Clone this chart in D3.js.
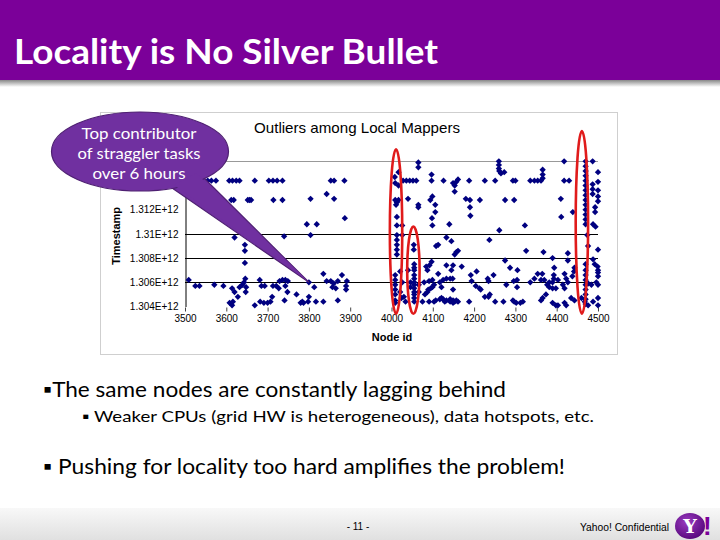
<!DOCTYPE html>
<html>
<head>
<meta charset="utf-8">
<script src="https://cdn.jsdelivr.net/npm/d3@7"></script>
<style>
  body { margin: 0; background: #fff; }
  svg { display: block; }
</style>
</head>
<body>
<div id="app"></div>
<script>
// points: [node id, timestamp in units of 1E+12]
const pts3500 = [
  [3526, 1.3144], [3546, 1.3144], [3555, 1.3144], [3564, 1.3144], [3575, 1.3144],
  [3607, 1.3144], [3615, 1.3144], [3624, 1.3144], [3632, 1.3144], [3669, 1.3144],
  [3572, 1.3128], [3612, 1.3128], [3618, 1.3128], [3652, 1.3128], [3656, 1.3128], [3660, 1.3128],
  [3620, 1.3097], [3645, 1.3091], [3645, 1.3086], [3645, 1.3076], [3646, 1.3063],
  [3509, 1.3062], [3525, 1.3057], [3535, 1.3057], [3571, 1.3058], [3593, 1.3057],
  [3614, 1.3055], [3620, 1.3052], [3628, 1.3048], [3632, 1.3056], [3639, 1.3058],
  [3643, 1.3060], [3648, 1.3056], [3647, 1.3052], [3608, 1.3043], [3616, 1.3044],
  [3614, 1.3041], [3669, 1.3041], [3681, 1.3062], [3685, 1.3057], [3693, 1.3057],
  [3682, 1.3044], [3691, 1.3043], [3700, 1.3043]
];
const pts3700 = [
  [3703, 1.3144], [3713, 1.3144], [3723, 1.3144], [3736, 1.3144], [3853, 1.3144], [3861, 1.3144], [3886, 1.3144],
  [3714, 1.3128], [3736, 1.3128], [3804, 1.3129], [3843, 1.3133], [3861, 1.3129],
  [3887, 1.3113], [3795, 1.3108], [3819, 1.3108], [3804, 1.3099], [3740, 1.3098],
  [3707, 1.3044], [3711, 1.3048], [3713, 1.3057], [3721, 1.3057], [3727, 1.3055],
  [3729, 1.3061], [3736, 1.3062], [3743, 1.3062], [3749, 1.3061], [3743, 1.3057],
  [3748, 1.3052], [3741, 1.3045], [3770, 1.3050], [3780, 1.3043], [3784, 1.3044],
  [3787, 1.3043], [3800, 1.3060], [3800, 1.3048], [3798, 1.3044], [3813, 1.3056],
  [3817, 1.3044], [3835, 1.3067], [3835, 1.3044], [3843, 1.3061], [3853, 1.3061],
  [3860, 1.3059], [3870, 1.3061], [3857, 1.3056], [3865, 1.3055], [3870, 1.3045],
  [3880, 1.3066], [3892, 1.3061], [3890, 1.3057], [3890, 1.3054]
];
const pts4000 = [
  [4017, 1.3151], [4008, 1.3147], [4009, 1.3142], [4017, 1.3140],
  [4028, 1.3144], [4036, 1.3144], [4044, 1.3144], [4052, 1.3144], [4060, 1.3144],
  [4009, 1.3128], [4013, 1.3126], [4017, 1.3128], [4011, 1.3124],
  [4013, 1.3114], [4013, 1.3107], [4013, 1.3099], [4013, 1.3095], [4013, 1.3091], [4013, 1.3087], [4013, 1.3083],
  [4026, 1.3107], [4026, 1.3099],
  [4009, 1.3066], [4009, 1.3062], [4009, 1.3058], [4009, 1.3054], [4009, 1.3050], [4009, 1.3045], [4009, 1.3043],
  [4021, 1.3069], [4026, 1.3060], [4021, 1.3052], [4024, 1.3047],
  [4065, 1.3159], [4065, 1.3155], [4065, 1.3124], [4065, 1.3122],
  [4097, 1.3149], [4097, 1.3144], [4040, 1.3129], [4094, 1.3128], [4099, 1.3131],
  [4106, 1.3124], [4106, 1.3118], [4099, 1.3107], [4098, 1.3113],
  [4054, 1.3091], [4054, 1.3087],
  [4055, 1.3075], [4055, 1.3072], [4055, 1.3070], [4055, 1.3066], [4055, 1.3063], [4055, 1.3060],
  [4055, 1.3058], [4055, 1.3055], [4055, 1.3052], [4055, 1.3050], [4055, 1.3047], [4055, 1.3044],
  [4046, 1.3060], [4046, 1.3056], [4040, 1.3070], [4066, 1.3058], [4066, 1.3052],
  [4084, 1.3073], [4097, 1.3077], [4092, 1.3074], [4087, 1.3070], [4108, 1.3090],
  [4079, 1.3060], [4091, 1.3061], [4099, 1.3062], [4095, 1.3055], [4099, 1.3056], [4103, 1.3058],
  [4081, 1.3050], [4087, 1.3052], [4089, 1.3054], [4091, 1.3044], [4103, 1.3044], [4107, 1.3045],
  [4075, 1.3044], [4034, 1.3044], [4030, 1.3048]
];
const pts4100 = [
  [4126, 1.3144], [4149, 1.3142], [4153, 1.3140], [4157, 1.3143], [4161, 1.3145], [4153, 1.3135],
  [4188, 1.3144], [4226, 1.3144], [4251, 1.3144],
  [4260, 1.3160], [4260, 1.3157], [4260, 1.3154], [4261, 1.3152], [4265, 1.3150], [4273, 1.3151],
  [4294, 1.3144], [4300, 1.3144],
  [4180, 1.3129], [4190, 1.3128], [4190, 1.3122], [4191, 1.3115], [4214, 1.3128], [4275, 1.3128], [4297, 1.3128],
  [4140, 1.3108], [4261, 1.3103], [4133, 1.3097], [4145, 1.3094], [4113, 1.3091], [4237, 1.3095],
  [4161, 1.3086], [4157, 1.3085], [4153, 1.3083], [4275, 1.3078],
  [4133, 1.3074], [4149, 1.3074], [4170, 1.3073], [4145, 1.3070], [4287, 1.3072], [4305, 1.3070],
  [4113, 1.3067], [4192, 1.3066], [4206, 1.3069], [4247, 1.3066],
  [4125, 1.3062], [4133, 1.3063], [4142, 1.3063], [4148, 1.3063], [4117, 1.3060], [4194, 1.3061],
  [4233, 1.3063], [4235, 1.3061], [4278, 1.3058], [4296, 1.3061], [4304, 1.3062],
  [4121, 1.3056], [4204, 1.3057], [4213, 1.3055], [4304, 1.3056], [4149, 1.3054], [4216, 1.3054], [4121, 1.3047],
  [4117, 1.3046], [4125, 1.3046], [4133, 1.3045], [4142, 1.3046], [4149, 1.3045], [4157, 1.3045],
  [4129, 1.3044], [4142, 1.3044], [4153, 1.3044], [4161, 1.3044], [4149, 1.3043],
  [4188, 1.3044], [4226, 1.3048], [4235, 1.3048], [4238, 1.3050], [4251, 1.3044], [4271, 1.3044],
  [4294, 1.3045], [4297, 1.3044], [4302, 1.3043], [4312, 1.3043]
];
const pts4300 = [
  [4418, 1.3160], [4487, 1.3160], [4500, 1.3151],
  [4366, 1.3153], [4366, 1.3149], [4366, 1.3146], [4362, 1.3144], [4354, 1.3144], [4346, 1.3144], [4336, 1.3144],
  [4418, 1.3144], [4430, 1.3144],
  [4470, 1.3160], [4470, 1.3156], [4470, 1.3152], [4470, 1.3148], [4470, 1.3144], [4470, 1.3140], [4470, 1.3136],
  [4470, 1.3132], [4470, 1.3128], [4470, 1.3124], [4470, 1.3120], [4470, 1.3116], [4470, 1.3112], [4470, 1.3108],
  [4487, 1.3141], [4487, 1.3137], [4487, 1.3133],
  [4500, 1.3143], [4500, 1.3136], [4500, 1.3131], [4500, 1.3127], [4493, 1.3122], [4493, 1.3118],
  [4410, 1.3129], [4439, 1.3118], [4411, 1.3114], [4488, 1.3108], [4494, 1.3106], [4323, 1.3107], [4474, 1.3099],
  [4326, 1.3086], [4368, 1.3085], [4427, 1.3084], [4476, 1.3090], [4500, 1.3087], [4390, 1.3080], [4427, 1.3078],
  [4488, 1.3079], [4492, 1.3075], [4499, 1.3073], [4443, 1.3072], [4442, 1.3069], [4438, 1.3065],
  [4394, 1.3072], [4393, 1.3066], [4393, 1.3063], [4419, 1.3067], [4423, 1.3063],
  [4500, 1.3070], [4500, 1.3068], [4500, 1.3065],
  [4470, 1.3075], [4470, 1.3070], [4470, 1.3066], [4470, 1.3062], [4470, 1.3058], [4470, 1.3054],
  [4470, 1.3050], [4470, 1.3046], [4470, 1.3042],
  [4354, 1.3067], [4365, 1.3067], [4346, 1.3063], [4336, 1.3060], [4362, 1.3062], [4370, 1.3062],
  [4377, 1.3058], [4382, 1.3056], [4390, 1.3055], [4398, 1.3055], [4382, 1.3060], [4390, 1.3060],
  [4403, 1.3062], [4415, 1.3058], [4427, 1.3060], [4419, 1.3055], [4476, 1.3059], [4484, 1.3058],
  [4500, 1.3058], [4496, 1.3060],
  [4374, 1.3050], [4366, 1.3047], [4362, 1.3045], [4318, 1.3044], [4390, 1.3043], [4398, 1.3041],
  [4403, 1.3041], [4419, 1.3043], [4423, 1.3041], [4435, 1.3047], [4443, 1.3045], [4460, 1.3047],
  [4468, 1.3044], [4476, 1.3041], [4488, 1.3044], [4500, 1.3047], [4500, 1.3041]
];

const xTicks = [3500, 3600, 3700, 3800, 3900, 4000, 4100, 4200, 4300, 4400, 4500];
// 1.314E+12 and 1.316E+12 sit under the callout on the slide
const yTicks = [1.304, 1.306, 1.308, 1.31, 1.312];
const gridValues = [1.306, 1.308, 1.31];
const yTop = 1.316;

// red rings drawn around the lagging nodes
const ringNodes = [4011, 4053, 4461];
const ringTop = [1.3170, 1.3106, 1.3185];
const ringBottom = [1.3034, 1.3034, 1.3034];
const ringHalfWidth = 15;

// the callout points at this node / timestamp
const calloutTip = [3800, 1.3060];
const calloutLines = ['Top contributor', 'of straggler tasks', 'over 6 hours'];

const bullets = [
  { text: '\u25AAThe same nodes are constantly lagging behind', x: 43, y: 397, size: 21, len: 463 },
  { text: '\u25AA Weaker CPUs (grid HW is heterogeneous), data hotspots, etc.', x: 82, y: 422, size: 16, len: 512 },
  { text: '\u25AA Pushing for locality too hard amplifies the problem!', x: 43, y: 474, size: 21, len: 522 }
];

const allPoints = [...pts3500, ...pts3700, ...pts4000, ...pts4100, ...pts4300];

const W = 720, H = 540;
const svg = d3.select('#app').append('svg').attr('width', W).attr('height', H);
const defs = svg.append('defs');

const bodyFont = "Lato, 'Open Sans', sans-serif";
const chartFont = "'Liberation Sans', Arial, sans-serif";

// title bar
const shadow = defs.append('linearGradient').attr('id', 'shadow').attr('x1', 0).attr('x2', 0).attr('y1', 0).attr('y2', 1);
shadow.append('stop').attr('offset', 0).attr('stop-color', '#777');
shadow.append('stop').attr('offset', 1).attr('stop-color', '#fff');
svg.append('rect').attr('x', 0).attr('y', 79).attr('width', W).attr('height', 8).attr('fill', 'url(#shadow)');
svg.append('rect').attr('x', 0).attr('y', 0).attr('width', W).attr('height', 80).attr('fill', '#7B0099');
svg.append('text')
  .attr('x', 14).attr('y', 64)
  .attr('font-family', bodyFont).attr('font-weight', 700).attr('font-size', 35)
  .attr('fill', '#fff')
  .attr('textLength', 424).attr('lengthAdjust', 'spacingAndGlyphs')
  .text('Locality is No Silver Bullet');

// chart picture frame
svg.append('rect').attr('x', 100.5).attr('y', 112.5).attr('width', 517).attr('height', 242)
  .attr('fill', '#fff').attr('stroke', '#cfcfcf');

const x = d3.scaleLinear().domain([3500, 4500]).range([185, 598]);
const y = d3.scaleLinear().domain([1.304, yTop]).range([306.5, 161.3]);

svg.append('text')
  .attr('x', 254).attr('y', 133)
  .attr('font-family', chartFont).attr('font-size', 14.5)
  .attr('textLength', 206).attr('lengthAdjust', 'spacingAndGlyphs')
  .text('Outliers among Local Mappers');

// plot top border and gridlines
svg.append('line')
  .attr('x1', x(3500)).attr('x2', x(4500))
  .attr('y1', Math.round(y(yTop)) + 0.5).attr('y2', Math.round(y(yTop)) + 0.5)
  .attr('stroke', '#999');
svg.append('g').selectAll('line').data(gridValues).join('line')
  .attr('x1', x(3500)).attr('x2', x(4500))
  .attr('y1', d => Math.round(y(d)) + 0.5).attr('y2', d => Math.round(y(d)) + 0.5)
  .attr('stroke', '#000');

// axes
const yAxis = svg.append('g')
  .attr('transform', `translate(${x(3500) + 0.5},0)`)
  .call(d3.axisLeft(y).tickValues(yTicks).tickSize(0).tickSizeOuter(0).tickPadding(7)
    .tickFormat(d => d3.format('.3~f')(d) + 'E+12'));
yAxis.select('.domain').attr('stroke', '#000');
yAxis.selectAll('text').attr('font-family', chartFont).attr('font-size', 10).attr('fill', '#000');

const xAxis = svg.append('g')
  .attr('transform', `translate(0,${y(1.304) + 1})`)
  .call(d3.axisBottom(x).tickValues(xTicks).tickSize(4).tickSizeOuter(0).tickPadding(3)
    .tickFormat(d3.format('d')));
xAxis.select('.domain').remove();
xAxis.selectAll('line').attr('stroke', '#444');
xAxis.selectAll('text').attr('font-family', chartFont).attr('font-size', 10).attr('fill', '#000');

svg.append('text')
  .attr('transform', `translate(120,${(y(1.304) + y(yTop)) / 2 + 2}) rotate(-90)`)
  .attr('text-anchor', 'middle')
  .attr('font-family', chartFont).attr('font-weight', 700).attr('font-size', 11)
  .text('Timestamp');
svg.append('text')
  .attr('x', 392).attr('y', 341)
  .attr('text-anchor', 'middle')
  .attr('font-family', chartFont).attr('font-weight', 700).attr('font-size', 11)
  .text('Node id');

// scatter marks
const diamond = d3.symbol(d3.symbolSquare, 20)();
svg.append('g').selectAll('path').data(allPoints).join('path')
  .attr('d', diamond)
  .attr('transform', d => `translate(${x(d[0])},${y(d[1])}) rotate(45)`)
  .attr('fill', '#000080');

// red rings
svg.append('g').selectAll('ellipse').data(ringNodes).join('ellipse')
  .attr('cx', d => x(d))
  .attr('cy', (d, i) => (y(ringTop[i]) + y(ringBottom[i])) / 2)
  .attr('rx', x(3500 + ringHalfWidth) - x(3500))
  .attr('ry', (d, i) => (y(ringBottom[i]) - y(ringTop[i])) / 2)
  .attr('fill', 'none')
  .attr('stroke', '#E01B1B')
  .attr('stroke-width', 2.6);

// callout bubble
const tipX = x(calloutTip[0]), tipY = y(calloutTip[1]);
const callout = svg.append('g');
callout.append('path')
  .attr('d', `M172,188 L${tipX},${tipY} L198,172 Z`)
  .attr('fill', '#7030A0').attr('stroke', '#4E1F72').attr('stroke-width', 1.2);
callout.append('ellipse')
  .attr('cx', 140).attr('cy', 151.5).attr('rx', 88.5).attr('ry', 39.5)
  .attr('fill', '#7030A0').attr('stroke', '#4E1F72').attr('stroke-width', 1.2);
callout.append('path')
  .attr('d', `M174,185 L${tipX - 1},${tipY - 1} L196,173 Z`)
  .attr('fill', '#7030A0');
const calloutLens = [115, 123, 93];
callout.selectAll('text').data(calloutLines).join('text')
  .attr('x', 139).attr('y', (d, i) => 139 + i * 20)
  .attr('text-anchor', 'middle')
  .attr('font-family', bodyFont).attr('font-size', 15)
  .attr('fill', '#fff')
  .attr('textLength', (d, i) => calloutLens[i]).attr('lengthAdjust', 'spacingAndGlyphs')
  .text(d => d);

// bullet text
svg.append('g').selectAll('text').data(bullets).join('text')
  .attr('x', d => d.x).attr('y', d => d.y)
  .attr('font-family', bodyFont).attr('font-size', d => d.size)
  .attr('fill', '#000')
  .attr('textLength', d => d.len).attr('lengthAdjust', 'spacingAndGlyphs')
  .text(d => d.text);

// footer
const foot = defs.append('linearGradient').attr('id', 'foot').attr('x1', 0).attr('x2', 0).attr('y1', 0).attr('y2', 1);
foot.append('stop').attr('offset', 0).attr('stop-color', '#f8f8f8');
foot.append('stop').attr('offset', 1).attr('stop-color', '#e0e0e0');
svg.append('rect').attr('x', 0).attr('y', 508).attr('width', W).attr('height', 32).attr('fill', 'url(#foot)');
svg.append('text')
  .attr('x', 358).attr('y', 530).attr('text-anchor', 'middle')
  .attr('font-family', chartFont).attr('font-size', 10)
  .text('- 11 -');
svg.append('text')
  .attr('x', 580).attr('y', 531)
  .attr('font-family', chartFont).attr('font-size', 10)
  .attr('textLength', 89).attr('lengthAdjust', 'spacingAndGlyphs')
  .text('Yahoo! Confidential');

const logoGrad = defs.append('radialGradient').attr('id', 'logo').attr('cx', '40%').attr('cy', '35%').attr('r', '65%');
logoGrad.append('stop').attr('offset', 0).attr('stop-color', '#9B3BC0');
logoGrad.append('stop').attr('offset', 1).attr('stop-color', '#5A0A80');
svg.append('ellipse').attr('cx', 690).attr('cy', 526).attr('rx', 15).attr('ry', 13).attr('fill', 'url(#logo)');
svg.append('text')
  .attr('x', 690).attr('y', 533).attr('text-anchor', 'middle')
  .attr('font-family', "'DejaVu Serif', serif").attr('font-weight', 700).attr('font-size', 19)
  .attr('fill', '#fff')
  .text('Y');
svg.append('text')
  .attr('x', 703).attr('y', 535)
  .attr('font-family', chartFont).attr('font-weight', 700).attr('font-size', 26)
  .attr('fill', '#7B0099')
  .text('!');
</script>
</body>
</html>
